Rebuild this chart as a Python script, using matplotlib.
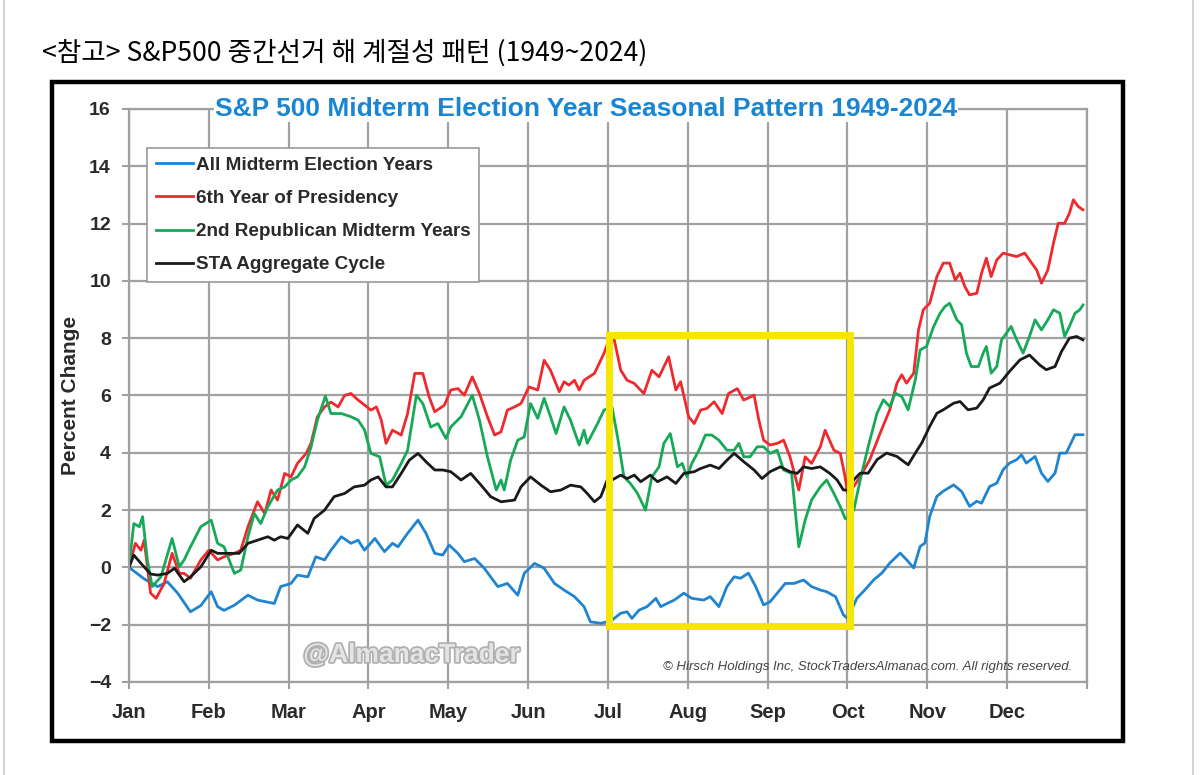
import matplotlib
matplotlib.use("Agg")
import matplotlib.pyplot as plt
import matplotlib.patheffects as pe
from matplotlib.patches import Rectangle
from matplotlib import font_manager

# font: narrow bold look of the original if available
names = {f.name for f in font_manager.fontManager.ttflist}
narrow = "Liberation Sans Narrow" if "Liberation Sans Narrow" in names else "Liberation Sans"

months = ["Jan", "Feb", "Mar", "Apr", "May", "Jun", "Jul", "Aug", "Sep", "Oct", "Nov", "Dec"]
y_ticks = [-4, -2, 0, 2, 4, 6, 8, 10, 12, 14, 16]

# (month position, percent change)
all_midterm = [(0, 0), (0.19, -0.4), (0.36, -0.67), (0.48, -0.5), (0.61, -0.9), (0.77, -1.55), (0.9, -1.33),
               (1.03, -0.85), (1.11, -1.37), (1.19, -1.5), (1.32, -1.32), (1.49, -0.97), (1.61, -1.14),
               (1.82, -1.26), (1.9, -0.67), (2.03, -0.56), (2.11, -0.27), (2.24, -0.33), (2.34, 0.37),
               (2.45, 0.26), (2.53, 0.6), (2.66, 1.07), (2.78, 0.84), (2.87, 0.95), (2.95, 0.6), (3.08, 1.01),
               (3.2, 0.55), (3.3, 0.84), (3.37, 0.72), (3.49, 1.19), (3.62, 1.65), (3.72, 1.19), (3.83, 0.49),
               (3.93, 0.43), (4.01, 0.78), (4.12, 0.49), (4.2, 0.2), (4.33, 0.31), (4.45, -0.03), (4.62, -0.67),
               (4.74, -0.56), (4.87, -0.97), (4.95, -0.21), (5.08, 0.14), (5.2, -0.03), (5.33, -0.56),
               (5.45, -0.79), (5.58, -1.02), (5.7, -1.37), (5.78, -1.9), (5.91, -1.95), (5.99, -1.9),
               (6.05, -1.84), (6.16, -1.6), (6.24, -1.55), (6.3, -1.78), (6.39, -1.49), (6.49, -1.37),
               (6.6, -1.08), (6.66, -1.37), (6.74, -1.26), (6.83, -1.14), (6.95, -0.9), (7.05, -1.08),
               (7.2, -1.14), (7.28, -1.02), (7.39, -1.37), (7.49, -0.67), (7.58, -0.33), (7.66, -0.38),
               (7.76, -0.2), (7.85, -0.67), (7.95, -1.31), (8.03, -1.2), (8.12, -0.9), (8.22, -0.56),
               (8.33, -0.56), (8.45, -0.44), (8.55, -0.67), (8.66, -0.79), (8.74, -0.85), (8.85, -1.02),
               (8.95, -1.66), (9.0, -1.78), (9.12, -1.07), (9.22, -0.78), (9.33, -0.43), (9.43, -0.2),
               (9.53, 0.15), (9.66, 0.5), (9.74, 0.27), (9.83, -0.02), (9.91, 0.73), (9.97, 0.85), (10.03, 1.78),
               (10.12, 2.48), (10.2, 2.66), (10.33, 2.88), (10.43, 2.65), (10.53, 2.13), (10.62, 2.31),
               (10.68, 2.24), (10.78, 2.82), (10.87, 2.94), (10.95, 3.41), (11.03, 3.64), (11.12, 3.76),
               (11.18, 3.93), (11.24, 3.64), (11.35, 3.87), (11.43, 3.29), (11.51, 3.0), (11.6, 3.29),
               (11.66, 3.99), (11.74, 3.99), (11.8, 4.34), (11.85, 4.63), (11.95, 4.63)]

sixth_year = [(0, 0), (0.08, 0.84), (0.15, 0.6), (0.19, 0.95), (0.27, -0.9), (0.34, -1.08), (0.44, -0.56),
              (0.54, 0.49), (0.63, -0.21), (0.69, -0.21), (0.77, -0.38), (0.9, 0.26), (1.0, 0.6), (1.11, 0.26),
              (1.19, 0.37), (1.32, 0.49), (1.4, 0.6), (1.49, 1.42), (1.61, 2.29), (1.7, 1.88), (1.78, 2.7),
              (1.86, 2.35), (1.95, 3.28), (2.03, 3.16), (2.11, 3.63), (2.22, 3.98), (2.28, 4.33), (2.36, 5.26),
              (2.45, 5.6), (2.53, 5.77), (2.62, 5.6), (2.7, 6.0), (2.78, 6.07), (2.87, 5.84), (2.95, 5.67),
              (3.03, 5.49), (3.1, 5.6), (3.16, 5.14), (3.22, 4.33), (3.3, 4.79), (3.41, 4.62), (3.49, 5.37),
              (3.58, 6.77), (3.68, 6.77), (3.76, 5.95), (3.83, 5.43), (3.95, 5.66), (4.03, 6.19), (4.12, 6.24),
              (4.2, 6.01), (4.3, 6.65), (4.39, 6.07), (4.49, 5.26), (4.58, 4.62), (4.66, 4.73), (4.74, 5.49),
              (4.83, 5.6), (4.91, 5.72), (5.01, 6.3), (5.12, 6.19), (5.2, 7.23), (5.28, 6.88), (5.39, 6.13),
              (5.45, 6.48), (5.51, 6.36), (5.58, 6.53), (5.64, 6.19), (5.7, 6.53), (5.83, 6.77), (5.95, 7.47),
              (6.01, 7.93), (6.08, 7.93), (6.16, 6.88), (6.24, 6.53), (6.33, 6.42), (6.39, 6.24), (6.45, 6.07),
              (6.55, 6.88), (6.64, 6.65), (6.7, 7.0), (6.76, 7.35), (6.85, 6.19), (6.91, 6.48), (7.01, 5.26),
              (7.08, 5.02), (7.16, 5.49), (7.24, 5.55), (7.33, 5.78), (7.43, 5.37), (7.51, 6.07), (7.62, 6.24),
              (7.7, 5.84), (7.83, 6.01), (7.89, 5.14), (7.95, 4.44), (8.03, 4.27), (8.12, 4.33), (8.2, 4.44),
              (8.28, 3.86), (8.39, 2.7), (8.47, 3.86), (8.55, 3.63), (8.66, 4.21), (8.72, 4.79), (8.83, 4.09),
              (8.91, 3.98), (8.97, 3.16), (9.0, 2.6), (9.08, 2.83), (9.16, 3.17), (9.28, 3.76), (9.41, 4.69),
              (9.53, 5.5), (9.62, 6.43), (9.68, 6.72), (9.74, 6.43), (9.83, 6.78), (9.89, 8.29), (9.95, 8.99),
              (10.03, 9.22), (10.12, 10.15), (10.2, 10.62), (10.28, 10.62), (10.35, 10.03), (10.41, 10.27),
              (10.47, 9.8), (10.53, 9.51), (10.62, 9.57), (10.68, 10.27), (10.74, 10.79), (10.8, 10.15),
              (10.87, 10.73), (10.95, 10.97), (11.03, 10.91), (11.12, 10.85), (11.22, 10.97), (11.28, 10.73),
              (11.37, 10.38), (11.43, 9.92), (11.51, 10.38), (11.58, 11.31), (11.64, 12.01), (11.72, 12.01),
              (11.78, 12.36), (11.83, 12.83), (11.89, 12.6), (11.95, 12.48)]

second_rep = [(0, 0), (0.06, 1.53), (0.13, 1.42), (0.17, 1.77), (0.23, 0.26), (0.29, -0.67), (0.4, -0.33),
              (0.54, 1.01), (0.63, 0.02), (0.69, 0.26), (0.77, 0.72), (0.9, 1.42), (1.03, 1.65), (1.11, 0.84),
              (1.19, 0.72), (1.32, -0.21), (1.4, -0.09), (1.49, 1.07), (1.57, 1.88), (1.65, 1.53), (1.74, 2.12),
              (1.86, 2.7), (1.95, 2.81), (2.03, 3.05), (2.11, 3.16), (2.2, 3.51), (2.28, 4.2), (2.36, 5.14),
              (2.46, 5.98), (2.53, 5.37), (2.66, 5.37), (2.78, 5.26), (2.87, 5.14), (2.95, 4.8), (3.03, 3.98),
              (3.14, 3.86), (3.22, 2.87), (3.3, 3.05), (3.41, 3.63), (3.49, 4.09), (3.6, 6.01), (3.68, 5.72),
              (3.78, 4.9), (3.87, 5.02), (3.97, 4.5), (4.03, 4.9), (4.16, 5.26), (4.3, 6.01), (4.39, 5.14),
              (4.49, 3.86), (4.6, 2.7), (4.66, 3.05), (4.7, 2.7), (4.78, 3.74), (4.87, 4.44), (4.95, 4.55),
              (5.03, 5.72), (5.12, 5.2), (5.2, 5.9), (5.28, 5.26), (5.35, 4.67), (5.45, 5.6), (5.53, 5.14),
              (5.64, 4.27), (5.7, 4.79), (5.74, 4.33), (5.87, 5.02), (5.95, 5.49), (6.05, 5.6), (6.12, 4.55),
              (6.2, 3.16), (6.28, 2.93), (6.37, 2.58), (6.47, 2.0), (6.55, 3.16), (6.64, 3.51), (6.7, 4.33),
              (6.78, 4.67), (6.87, 3.51), (6.93, 3.63), (6.99, 3.16), (7.05, 3.63), (7.14, 4.09), (7.22, 4.62),
              (7.3, 4.62), (7.39, 4.44), (7.49, 4.09), (7.58, 4.09), (7.64, 4.33), (7.7, 3.86), (7.78, 3.86),
              (7.87, 4.21), (7.95, 4.21), (8.03, 3.98), (8.12, 4.09), (8.2, 3.4), (8.3, 3.28), (8.39, 0.72),
              (8.47, 1.65), (8.55, 2.35), (8.66, 2.81), (8.74, 3.05), (8.83, 2.58), (8.91, 2.12), (8.97, 1.71),
              (9.0, 1.7), (9.08, 2.01), (9.16, 3.06), (9.26, 4.22), (9.37, 5.38), (9.45, 5.85), (9.53, 5.61),
              (9.6, 6.08), (9.68, 5.96), (9.76, 5.5), (9.85, 6.55), (9.91, 7.59), (9.99, 7.71), (10.08, 8.41),
              (10.16, 8.87), (10.22, 9.1), (10.28, 9.22), (10.37, 8.64), (10.43, 8.47), (10.49, 7.48),
              (10.55, 7.01), (10.64, 7.01), (10.7, 7.48), (10.74, 7.71), (10.8, 6.78), (10.87, 7.01),
              (10.93, 7.94), (10.99, 8.17), (11.05, 8.41), (11.12, 7.94), (11.2, 7.48), (11.28, 8.06),
              (11.35, 8.64), (11.43, 8.29), (11.51, 8.64), (11.58, 8.99), (11.66, 8.87), (11.72, 8.06),
              (11.78, 8.41), (11.85, 8.87), (11.91, 8.99), (11.95, 9.16)]

sta_cycle = [(0, 0), (0.06, 0.43), (0.15, 0.14), (0.27, -0.23), (0.36, -0.27), (0.48, -0.21), (0.57, -0.03),
             (0.69, -0.5), (0.77, -0.33), (0.9, 0.02), (1.03, 0.6), (1.11, 0.49), (1.28, 0.49), (1.38, 0.49),
             (1.49, 0.84), (1.61, 0.95), (1.74, 1.07), (1.82, 0.95), (1.9, 1.07), (1.99, 1.01), (2.11, 1.48),
             (2.24, 1.19), (2.32, 1.71), (2.45, 2.0), (2.57, 2.47), (2.7, 2.58), (2.82, 2.81), (2.95, 2.87),
             (3.03, 3.05), (3.12, 3.16), (3.22, 2.81), (3.3, 2.81), (3.41, 3.28), (3.51, 3.74), (3.62, 3.98),
             (3.72, 3.69), (3.83, 3.4), (3.93, 3.4), (4.03, 3.34), (4.16, 3.05), (4.28, 3.28), (4.41, 2.87),
             (4.53, 2.47), (4.66, 2.29), (4.83, 2.35), (4.91, 2.81), (5.03, 3.16), (5.16, 2.87), (5.28, 2.64),
             (5.41, 2.7), (5.53, 2.87), (5.66, 2.81), (5.74, 2.58), (5.83, 2.29), (5.91, 2.47), (5.99, 3.05),
             (6.05, 3.05), (6.16, 3.22), (6.24, 3.1), (6.33, 3.22), (6.41, 2.99), (6.53, 3.22), (6.62, 2.99),
             (6.74, 3.16), (6.85, 2.93), (6.95, 3.28), (7.08, 3.34), (7.16, 3.45), (7.28, 3.57), (7.39, 3.45),
             (7.49, 3.74), (7.58, 3.98), (7.7, 3.69), (7.83, 3.4), (7.93, 3.1), (8.03, 3.34), (8.16, 3.51),
             (8.28, 3.34), (8.37, 3.28), (8.45, 3.51), (8.55, 3.45), (8.66, 3.51), (8.78, 3.28), (8.87, 3.05),
             (8.95, 2.7), (9.0, 2.7), (9.08, 3.06), (9.16, 3.29), (9.26, 3.29), (9.37, 3.76), (9.49, 3.99),
             (9.62, 3.87), (9.76, 3.58), (9.85, 3.99), (9.93, 4.34), (10.03, 4.92), (10.12, 5.38), (10.2, 5.5),
             (10.33, 5.73), (10.41, 5.79), (10.51, 5.5), (10.62, 5.56), (10.7, 5.85), (10.78, 6.26),
             (10.91, 6.43), (11.03, 6.84), (11.16, 7.24), (11.28, 7.41), (11.41, 7.06), (11.49, 6.9),
             (11.6, 7.01), (11.68, 7.53), (11.78, 8.0), (11.87, 8.06), (11.95, 7.94)]

series = [
    ("All Midterm Election Years", all_midterm, "#1f84d2"),
    ("6th Year of Presidency", sixth_year, "#ee2a2e"),
    ("2nd Republican Midterm Years", second_rep, "#16a957"),
    ("STA Aggregate Cycle", sta_cycle, "#1a1a1a"),
]

fig = plt.figure(figsize=(12, 7.75), dpi=100)
fig.patch.set_facecolor("white")

# outer screenshot frame + black box around the chart
fig.add_artist(plt.Line2D([0.003, 0.003], [0, 1], color="#d4d4d4", lw=1.5))
fig.add_artist(plt.Line2D([0.994, 0.994], [0, 1], color="#d4d4d4", lw=1.5))
fig.add_artist(Rectangle((0.0433, 0.0439), 0.8925, 0.8503, transform=fig.transFigure,
                         fill=False, edgecolor="black", lw=3.2))

fig.text(0.035, 0.932, "<참고> S&P500 중간선거 해 계절성 패턴 (1949~2024)",
         family=["Noto Sans CJK KR", "DejaVu Sans"], fontsize=19.2, va="center", ha="left")

ax = fig.add_axes([0.1075, 0.12, 0.7983, 0.7394])
grid_c = "#a0a0a0"

for label, pts, color in series:
    xs, ys = zip(*pts)
    ax.plot(xs, ys, color=color, lw=2.0, label=label, solid_joinstyle="round")

ax.set_xlim(0, 12)
ax.set_ylim(-4, 16)
ax.set_xticks(range(13))
ax.set_xticklabels(months + [""])
ax.set_yticks(y_ticks)
ax.grid(True, color=grid_c, lw=1.6)
ax.set_axisbelow(True)
for s in ax.spines.values():
    s.set_color(grid_c)
    s.set_linewidth(1.6)
ax.tick_params(colors=grid_c, width=1.5, length=5)
ax.tick_params(axis="x", pad=10)
ax.tick_params(axis="y", pad=8)
for t in ax.get_xticklabels():
    t.set_fontfamily(narrow)
    t.set_fontweight("bold")
    t.set_fontsize(14.5)
    t.set_color("#2a2a2a")
for t in ax.get_yticklabels():
    t.set_fontfamily(narrow)
    t.set_fontweight("bold")
    t.set_fontsize(14)
    t.set_color("#2a2a2a")

ax.set_ylabel("Percent Change", fontfamily=narrow, fontweight="bold", fontsize=15,
              color="#2a2a2a", labelpad=6)

ax.text(0.477, 1.0, "S&P 500 Midterm Election Year Seasonal Pattern 1949-2024",
        transform=ax.transAxes, ha="center", va="center", color="#1a86d2",
        fontfamily=narrow, fontweight="bold", fontsize=19,
        bbox=dict(facecolor="white", edgecolor="none", pad=1))

leg = ax.legend(loc="upper left", bbox_to_anchor=(0.0188, 0.932), borderaxespad=0,
                fancybox=False, framealpha=1, edgecolor="#9a9a9a",
                prop=dict(family=narrow, weight="bold", size=13.6),
                handlelength=2.0, handletextpad=0.15, labelspacing=0.85, borderpad=0.45)
leg.get_frame().set_linewidth(1.2)
for t in leg.get_texts():
    t.set_color("#2a2a2a")

# highlight box Jul - Oct
ax.add_patch(Rectangle((6.01, -2.06), 3.02, 10.16, fill=False, edgecolor="#f7e600", lw=5, zorder=5))

ax.text(0.182, 0.047, "@AlmanacTrader", transform=ax.transAxes, ha="left", va="center",
        fontfamily=narrow, fontweight="bold", fontsize=19, color="#e4e4e4",
        path_effects=[pe.withStroke(linewidth=2.5, foreground="#b0b0b0")])
ax.text(0.985, 0.026, "© Hirsch Holdings Inc, StockTradersAlmanac.com. All rights reserved.",
        transform=ax.transAxes, ha="right", va="center", fontstyle="italic",
        fontfamily=narrow, fontsize=9.5, color="#444444")

fig.savefig("out.png", dpi=100)
